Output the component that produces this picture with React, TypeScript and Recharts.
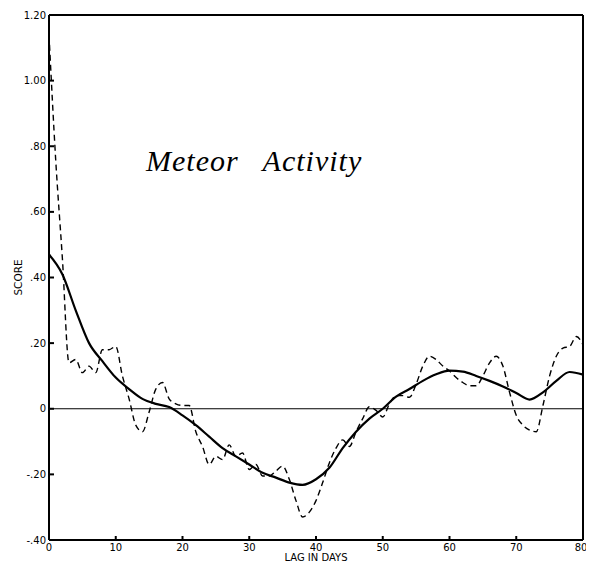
import { LineChart, Line, XAxis, YAxis, ReferenceLine } from 'recharts';

// lag in days (dashed series has one value per day)
const days = Array.from({ length: 81 }, (_, i) => i);

const rawScore = [
  1.14, 0.76, 0.46, 0.14, 0.15, 0.11, 0.13, 0.11, 0.18, 0.18,
  0.19, 0.1, 0.03, -0.05, -0.07, -0.01, 0.06, 0.08, 0.03, 0.015,
  0.01, 0.01, -0.07, -0.115, -0.17, -0.145, -0.155, -0.11, -0.145, -0.135,
  -0.185, -0.17, -0.205, -0.205, -0.19, -0.175, -0.215, -0.28, -0.33, -0.315,
  -0.28, -0.225, -0.165, -0.12, -0.095, -0.115, -0.07, -0.03, 0.006, -0.005,
  -0.025, 0.015, 0.04, 0.04, 0.035, 0.075, 0.13, 0.16, 0.15, 0.13,
  0.115, 0.095, 0.08, 0.07, 0.07, 0.1, 0.14, 0.16, 0.13, 0.05,
  -0.02, -0.05, -0.065, -0.07, 0.01, 0.1, 0.16, 0.185, 0.19, 0.22,
  0.195,
];

// smoothed curve, read every 2 days
const smoothDays = [
  0, 2, 4, 6, 8, 10, 12, 14, 16, 18, 20, 22, 24, 26, 28, 30, 32, 34, 36, 38,
  40, 42, 44, 46, 48, 50, 52, 54, 56, 58, 60, 62, 64, 66, 68, 70, 72, 74, 76, 78, 80,
];
const smoothScore = [
  0.47, 0.41, 0.3, 0.2, 0.145, 0.095, 0.06, 0.03, 0.015, 0.005,
  -0.02, -0.05, -0.085, -0.12, -0.145, -0.17, -0.195, -0.21, -0.225, -0.232,
  -0.215, -0.18, -0.12, -0.07, -0.03, 0.0, 0.037, 0.06, 0.085, 0.105,
  0.116, 0.113, 0.1, 0.085, 0.068, 0.048, 0.028, 0.05, 0.085, 0.112,
  0.104,
];

const xTicks = [0, 10, 20, 30, 40, 50, 60, 70, 80];
const yTicks = [-0.4, -0.2, 0, 0.2, 0.4, 0.6, 0.8, 1.0, 1.2];

const data = days.map((d, i) => {
  const j = smoothDays.indexOf(d);
  return { day: d, raw: rawScore[i], smooth: j >= 0 ? smoothScore[j] : null };
});

const fmtY = (v: number) => {
  if (Math.abs(v) < 1e-9) return '0';
  const s = Math.abs(v).toFixed(2).replace(/^0/, '');
  return v < 0 ? '-' + s : s;
};

const tickStyle = { fontSize: 10, fill: '#000', fontFamily: 'DejaVu Sans' };

export default function App() {
  return (
    <div style={{ position: 'relative', width: 578, height: 556, background: '#fff' }}>
      <LineChart width={578} height={556} data={data} margin={{ top: 7, right: 0, left: 0, bottom: 0 }}>
        <XAxis
          dataKey="day"
          type="number"
          domain={[0, 80]}
          ticks={xTicks}
          tick={tickStyle}
          tickSize={-4}
          tickMargin={8}
          height={24}
          stroke="#000"
          strokeWidth={2}
          label={{ value: 'LAG IN DAYS', position: 'insideBottom', offset: 3, style: { ...tickStyle, textAnchor: 'middle' } }}
        />
        <YAxis
          yAxisId="left"
          type="number"
          domain={[-0.4, 1.2]}
          ticks={yTicks}
          tickFormatter={fmtY}
          tick={tickStyle}
          tickSize={-5}
          tickMargin={8}
          width={41}
          stroke="#000"
          strokeWidth={2}
          label={{ value: 'SCORE', angle: -90, position: 'insideLeft', offset: 10, style: { ...tickStyle, fontSize: 10.5, textAnchor: 'middle' } }}
        />
        <YAxis
          yAxisId="right"
          orientation="right"
          type="number"
          domain={[-0.4, 1.2]}
          ticks={yTicks}
          tickFormatter={() => ''}
          tickSize={-5}
          width={3}
          stroke="#000"
          strokeWidth={2}
        />
        <ReferenceLine yAxisId="left" y={1.2} stroke="#000" strokeWidth={2} />
        <ReferenceLine yAxisId="left" y={0} stroke="#000" strokeWidth={1.2} />
        <Line
          yAxisId="left"
          type="monotone"
          dataKey="raw"
          stroke="#000"
          strokeWidth={1.4}
          strokeDasharray="6 4"
          dot={false}
          isAnimationActive={false}
        />
        <Line
          yAxisId="left"
          type="monotone"
          dataKey="smooth"
          stroke="#000"
          strokeWidth={2.2}
          dot={false}
          connectNulls
          isAnimationActive={false}
        />
      </LineChart>
      <div
        style={{
          position: 'absolute',
          left: 138,
          top: 136,
          fontFamily: 'Liberation Serif',
          fontStyle: 'italic',
          fontSize: 30,
          wordSpacing: 16,
          letterSpacing: 1,
          color: '#000',
          whiteSpace: 'nowrap',
        }}
      >
        Meteor Activity
      </div>
    </div>
  );
}
